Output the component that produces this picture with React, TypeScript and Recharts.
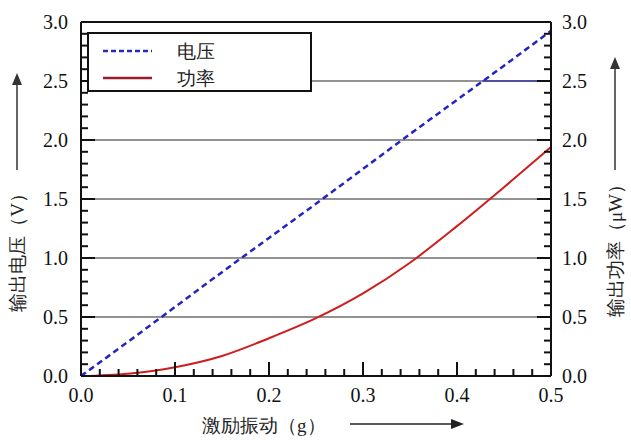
import { LineChart, Line, XAxis, YAxis, ReferenceLine, Legend, Label } from "recharts"

// excitation (g)
const accel = [0, 0.05, 0.1, 0.15, 0.2, 0.25, 0.3, 0.35, 0.4, 0.45, 0.5]
// output voltage (V)
const voltage = [0, 0.29, 0.585, 0.88, 1.17, 1.46, 1.755, 2.05, 2.34, 2.63, 2.925]
// output power (uW)
const power = [0, 0.02, 0.075, 0.17, 0.32, 0.49, 0.7, 0.96, 1.27, 1.6, 1.94]

const xTicks = [0, 0.02, 0.04, 0.06, 0.08, 0.1, 0.12, 0.14, 0.16, 0.18, 0.2, 0.22, 0.24, 0.26, 0.28, 0.3, 0.32, 0.34, 0.36, 0.38, 0.4, 0.42, 0.44, 0.46, 0.48, 0.5]
const yTicks = [0, 0.1, 0.2, 0.3, 0.4, 0.5, 0.6, 0.7, 0.8, 0.9, 1.0, 1.1, 1.2, 1.3, 1.4, 1.5, 1.6, 1.7, 1.8, 1.9, 2.0, 2.1, 2.2, 2.3, 2.4, 2.5, 2.6, 2.7, 2.8, 2.9, 3.0]
const gridLines = [0.5, 1.0, 1.5, 2.0, 2.5]

const series = [
  { key: "voltage", name: "电压", color: "#2424c2", legendColor: "#2a2ab8", dash: "6 4", axis: "left" },
  { key: "power", name: "功率", color: "#cf1d1d", legendColor: "#9a1a2e", dash: undefined, axis: "right" },
]

const data = accel.map((x, i) => ({ x, voltage: voltage[i], power: power[i] }))

const SERIF = "Liberation Serif"
const INK = "#111"

const isMult = (v: number, step: number) => Math.abs(v / step - Math.round(v / step)) < 1e-6

const XTick = (p: any) => {
  const v = p.payload.value
  const major = isMult(v, 0.1)
  return (
    <g>
      <line x1={p.x} x2={p.x} y1={p.y} y2={p.y - (major ? 14 : 7)} stroke={INK} strokeWidth={2} />
      {major && <text x={p.x} y={p.y + 26} textAnchor="middle" fontFamily={SERIF} fontSize={20} fill={INK}>{v.toFixed(1)}</text>}
    </g>
  )
}

const YTick = (side: "left" | "right") => (p: any) => {
  const v = p.payload.value
  const major = isMult(v, 0.5)
  const dir = side === "left" ? 1 : -1
  return (
    <g>
      <line x1={p.x} x2={p.x + dir * (major ? 14 : 7)} y1={p.y} y2={p.y} stroke={INK} strokeWidth={2} />
      {major && (
        <text x={side === "left" ? p.x - 13 : p.x + 11} y={p.y + 7} textAnchor={side === "left" ? "end" : "start"} fontFamily={SERIF} fontSize={20} fill={INK}>
          {v.toFixed(1)}
        </text>
      )}
    </g>
  )
}

const UpArrow = ({ x, top, bottom }: { x: number; top: number; bottom: number }) => (
  <g>
    <line x1={x} x2={x} y1={bottom} y2={top + 10} stroke="#333" strokeWidth={1.5} />
    <polygon points={`${x},${top} ${x - 5},${top + 12} ${x + 5},${top + 12}`} fill="#333" />
  </g>
)

const XTitle = (p: any) => {
  const { x, y } = p.viewBox
  return (
    <g>
      <text x={x + 121} y={y + 56} fontFamily={SERIF} fontSize={19} fill="#222">激励振动（g）</text>
      <line x1={x + 269} x2={x + 372} y1={y + 48} y2={y + 48} stroke="#222" strokeWidth={1.5} />
      <polygon points={`${x + 383},${y + 48} ${x + 370},${y + 43} ${x + 370},${y + 53}`} fill="#222" />
    </g>
  )
}

const LeftTitle = (p: any) => {
  const { y } = p.viewBox
  const cx = 17
  const cy = y + 226
  return (
    <g>
      <text x={cx} y={cy} transform={`rotate(-90 ${cx} ${cy})`} textAnchor="middle" dominantBaseline="central" fontFamily={SERIF} fontSize={19} fill="#222">
        输出电压（V）
      </text>
      <UpArrow x={cx} top={y + 51} bottom={y + 148} />
    </g>
  )
}

const RightTitle = (p: any) => {
  const { x, y } = p.viewBox
  const cx = x + 64
  const cy = y + 224
  return (
    <g>
      <text x={cx} y={cy} transform={`rotate(-90 ${cx} ${cy})`} textAnchor="middle" dominantBaseline="central" fontFamily={SERIF} fontSize={19} fill="#222">
        输出功率（μW）
      </text>
      <UpArrow x={cx} top={y + 35} bottom={y + 148} />
    </g>
  )
}

const LegendBox = () => (
  <div style={{ width: 225, height: 60, border: "2px solid #111", background: "#fff", boxSizing: "border-box" }}>
    <svg width={221} height={56} style={{ display: "block" }}>
      {series.map((s, i) => (
        <g key={s.key}>
          <line x1={14} x2={63} y1={17 + i * 27} y2={17 + i * 27} stroke={s.legendColor} strokeWidth={2.5} strokeDasharray={s.dash ? "5 3" : undefined} />
          <text x={88} y={17 + i * 27} dominantBaseline="central" fontFamily={SERIF} fontSize={19} fill="#222">{s.name}</text>
        </g>
      ))}
    </svg>
  </div>
)

export default function App() {
  return (
    <div style={{ position: "absolute", left: 0, top: 0, background: "#fff", fontFamily: SERIF }}>
      <LineChart width={631} height={440} data={data} margin={{ top: 22, right: 0, bottom: 0, left: 0 }}>
        <XAxis
          type="number"
          dataKey="x"
          domain={[0, 0.5]}
          ticks={xTicks}
          interval={0}
          height={64}
          tickSize={0}
          tickMargin={0}
          tickLine={false}
          tick={XTick}
          axisLine={{ stroke: INK, strokeWidth: 2 }}
        >
          <Label content={XTitle} />
        </XAxis>
        <YAxis
          yAxisId="left"
          type="number"
          domain={[0, 3]}
          ticks={yTicks}
          interval={0}
          width={81}
          tickSize={0}
          tickMargin={0}
          tickLine={false}
          tick={YTick("left")}
          axisLine={{ stroke: INK, strokeWidth: 2 }}
        >
          <Label content={LeftTitle} />
        </YAxis>
        <YAxis
          yAxisId="right"
          orientation="right"
          type="number"
          domain={[0, 3]}
          ticks={yTicks}
          interval={0}
          width={80}
          tickSize={0}
          tickMargin={0}
          tickLine={false}
          tick={YTick("right")}
          axisLine={{ stroke: INK, strokeWidth: 2 }}
        >
          <Label content={RightTitle} />
        </YAxis>
        {gridLines.map(v => (
          <ReferenceLine key={v} yAxisId="left" y={v} stroke="#6e6e6e" strokeWidth={1.6} />
        ))}
        {/* in the source the 2.5 gridline turns blue past the voltage crossing */}
        <ReferenceLine yAxisId="left" segment={[{ x: 0.427, y: 2.5 }, { x: 0.5, y: 2.5 }]} stroke="#3a3aa8" strokeWidth={1.6} />
        <ReferenceLine yAxisId="left" y={3} stroke={INK} strokeWidth={2} />
        {series.map(s => (
          <Line
            key={s.key}
            yAxisId={s.axis}
            dataKey={s.key}
            name={s.name}
            type="monotone"
            stroke={s.color}
            strokeWidth={s.dash ? 2.5 : 2}
            strokeDasharray={s.dash}
            dot={false}
            isAnimationActive={false}
          />
        ))}
        <Legend
          layout="horizontal"
          verticalAlign="middle"
          align="center"
          content={LegendBox}
          wrapperStyle={{ left: 87, top: 32, width: 225, height: 60 }}
        />
      </LineChart>
    </div>
  )
}
